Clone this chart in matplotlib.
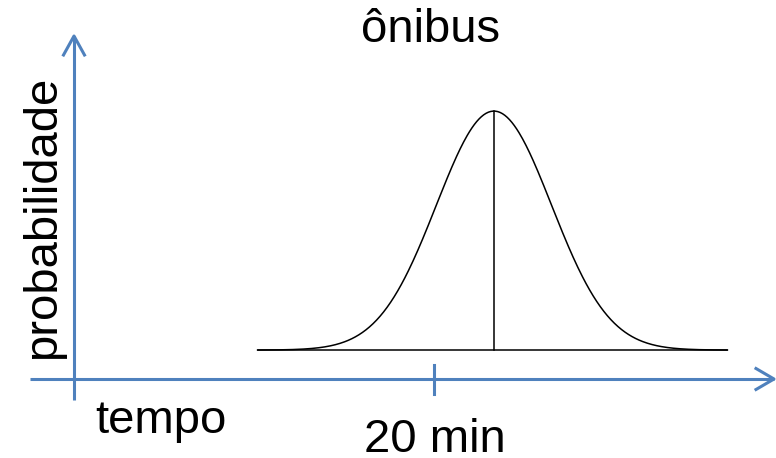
import matplotlib.pyplot as plt
import numpy as np

# distribuição do tempo de chegada do ônibus (minutos)
MEDIA = 23.33
DESVIO = 3.2
INICIO, FIM = 10.2, 36.3
BASE = 0.121      # altura da linha de base acima do eixo
ALTURA = 1.0      # altura do pico acima da base
MARCA = 20        # marcação no eixo do tempo

TITULO = 'ônibus'
ROTULO_X = 'tempo'
ROTULO_Y = 'probabilidade'
ROTULO_MARCA = '20 min'

W, H = 776, 458
PX_X, PX_Y = 18, 239       # pixels por unidade
X0, Y0 = 74, 379           # origem dos eixos (pixels, a partir do topo)
AZUL = '#4F81BD'


def px(x, y):
    """pixel (a partir do topo) -> coordenadas de dados"""
    return (x - X0) / PX_X, (Y0 - y) / PX_Y


if __name__ == '__main__':
    fig = plt.figure(figsize=(W / 100, H / 100), dpi=100)
    ax = fig.add_axes([0, 0, 1, 1])
    ax.set_xlim(px(0, 0)[0], px(W, 0)[0])
    ax.set_ylim(px(0, H)[1], px(0, 0)[1])
    ax.axis('off')

    # eixos com setas
    (xa, ya), (xb, yb) = px(74, 400), px(74, 36)
    ax.plot([xa, xb], [ya, yb], color=AZUL, lw=2.2, solid_capstyle='butt')
    w1, w2 = px(63.5, 55), px(84.5, 55)
    ax.plot([w1[0], xb, w2[0]], [w1[1], yb, w2[1]], color=AZUL, lw=2.2)

    (xa, ya), (xb, yb) = px(30, 379), px(774, 379)
    ax.plot([xa, xb], [ya, yb], color=AZUL, lw=2.2, solid_capstyle='butt')
    w1, w2 = px(756, 368.5), px(756, 389.5)
    ax.plot([w1[0], xb, w2[0]], [w1[1], yb, w2[1]], color=AZUL, lw=2.2)

    t1, t2 = px(0, 365)[1], px(0, 394)[1]
    ax.plot([MARCA, MARCA], [t1, t2], color=AZUL, lw=2.2)

    # curva normal
    x = np.linspace(INICIO, FIM, 400)
    y = BASE + ALTURA * np.exp(-0.5 * ((x - MEDIA) / DESVIO) ** 2)
    ax.plot(x, y, color='black', lw=1.1)
    ax.plot([INICIO, FIM], [BASE, BASE], color='black', lw=1.1)
    ax.plot([MEDIA, MEDIA], [BASE, BASE + ALTURA], color='black', lw=1.1)

    fonte = dict(family='Liberation Sans', size=34, color='black')
    ax.text(*px(431, 42), TITULO, ha='center', va='baseline', **fonte)
    ax.text(*px(161, 433), ROTULO_X, ha='center', va='baseline', **fonte)
    ax.text(*px(435, 452), ROTULO_MARCA, ha='center', va='baseline', **fonte)
    ax.text(*px(55, 217), ROTULO_Y, ha='center', va='baseline',
            rotation=90, rotation_mode='anchor', **fonte)

    fig.savefig('out.png', dpi=100)
